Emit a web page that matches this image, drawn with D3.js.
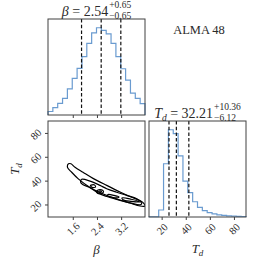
<!DOCTYPE html>
<html>
<head>
<meta charset="utf-8">
<script src="https://cdn.jsdelivr.net/npm/d3@7"></script>
<style>
  body { margin: 0; background: #fff; }
  svg { display: block; }
  text { font-family: "Liberation Serif", "DejaVu Serif", serif; fill: #2a2a2a; }
</style>
</head>
<body>
<div id="chart"></div>
<script>
'use strict';

// parameter ranges and ticks
var betaRange = [0.78, 3.99];
var tdRange = [9.5, 90];
var betaTicks = [1.6, 2.4, 3.2];
var tdTicks = [20, 40, 60, 80];

// 1D histograms (20 bins each)
var betaCounts = [40, 84, 134, 190, 300, 420, 535, 670, 820, 940, 1000, 970, 930, 820, 670, 530, 400, 250, 190, 130];
var tdCounts = [3, 3, 80, 610, 1000, 955, 700, 410, 280, 175, 110, 72, 50, 35, 25, 18, 12, 10, 8, 6];

// 16/50/84 quantiles
var betaQuantiles = [1.89, 2.54, 3.19];
var tdQuantiles = [26.09, 32.21, 42.57];

// 2D contours, [beta, Td]
var contourOuter = [[1.425, 51.2], [1.458, 54.1], [1.541, 54.1], [1.674, 51.2], [1.938, 47.0], [2.269, 41.9],
  [2.723, 36.0], [3.163, 30.5], [3.494, 26.7], [3.825, 23.3], [3.957, 20.8], [3.99, 18.7], [3.825, 18.7],
  [3.494, 21.2], [3.053, 24.6], [2.610, 28.8], [2.170, 34.3], [1.783, 41.5], [1.564, 47.0]];
var contourMid = [[1.856, 39.0], [1.895, 41.1], [2.170, 39.6], [2.501, 36.0], [2.723, 33.2], [3.053, 30.3],
  [3.384, 27.6], [3.715, 24.8], [3.881, 20.6], [3.825, 19.7], [3.494, 21.4], [3.106, 23.9], [2.723, 26.7],
  [2.445, 29.5], [2.170, 34.1], [1.928, 36.8]];
var islandA = [[2.186, 36.0], [2.319, 36.4], [2.352, 34.7], [2.236, 34.3]];
var islandB = [[2.385, 30.7], [2.435, 32.2], [2.501, 32.5], [2.584, 32.0], [2.617, 30.7], [2.567, 29.3], [2.501, 29.0], [2.418, 29.4]];
var islandC = [[2.766, 28.4], [2.964, 27.6], [3.130, 26.3], [3.063, 25.5], [2.865, 26.3], [2.749, 27.1]];
var islandD = [[3.229, 25.5], [3.527, 24.4], [3.825, 22.1], [3.527, 22.6], [3.262, 23.9]];
var islandCore = [[2.46, 30.8], [2.50, 31.5], [2.55, 30.8], [2.50, 30.1]];

var W = 266, H = 266;
var cols = [[48, 145], [149, 246]];
var rows = [[19, 115], [121, 217]];
var spine = '#404040';

var svg = d3.select('#chart').append('svg')
    .attr('width', W)
    .attr('height', H);

function frame(col, row) {
    svg.append('rect')
        .attr('x', cols[col][0]).attr('y', rows[row][0])
        .attr('width', cols[col][1] - cols[col][0])
        .attr('height', rows[row][1] - rows[row][0])
        .attr('fill', 'none').attr('stroke', spine).attr('stroke-width', 1);
}

function xTicks(x, ticks, row, labels) {
    var g = svg.append('g')
        .attr('transform', 'translate(0,' + rows[row][1] + ')')
        .call(d3.axisBottom(x).tickValues(ticks).tickSize(3).tickFormat(''));
    g.select('.domain').remove();
    g.selectAll('line').attr('stroke', spine);
    if (labels) {
        svg.selectAll(null)
            .data(ticks)
            .enter()
            .append('text')
            .attr('transform', d => 'translate(' + (x(d) + 0.5) + ',' + (rows[row][1] + 12) + ') rotate(-45)')
            .attr('text-anchor', 'middle')
            .attr('dominant-baseline', 'central')
            .attr('font-size', 10.5)
            .text(d => d);
    }
}

function hist(counts, range, quant, ticks, col, row, labels) {
    var x = d3.scaleLinear().domain(range).range(cols[col]);
    var y = d3.scaleLinear().domain([0, 1.1 * d3.max(counts)]).range([rows[row][1], rows[row][0]]);
    var n = counts.length;
    var pts = [[range[0], 0]];
    counts.forEach(function (c, i) {
        pts.push([range[0] + i * (range[1] - range[0]) / n, c]);
        pts.push([range[0] + (i + 1) * (range[1] - range[0]) / n, c]);
    });
    pts.push([range[1], 0]);
    svg.append('path')
        .attr('d', d3.line().x(d => x(d[0])).y(d => y(d[1]))(pts))
        .attr('fill', 'none')
        .attr('stroke', '#6a9bd0')
        .attr('stroke-width', 1.2);
    svg.selectAll(null)
        .data(quant)
        .enter()
        .append('line')
        .attr('x1', d => x(d)).attr('x2', d => x(d))
        .attr('y1', rows[row][0]).attr('y2', rows[row][1])
        .attr('stroke', '#111')
        .attr('stroke-width', 1.2)
        .attr('stroke-dasharray', '3.5,2.2');
    frame(col, row);
    xTicks(x, ticks, row, labels);
}

// top-left: beta
hist(betaCounts, betaRange, betaQuantiles, betaTicks, 0, 0, false);
// bottom-right: Td
hist(tdCounts, tdRange, tdQuantiles, tdTicks, 1, 1, true);

// bottom-left: contours
var cx = d3.scaleLinear().domain(betaRange).range(cols[0]);
var cy = d3.scaleLinear().domain(tdRange).range([rows[1][1], rows[1][0]]);

svg.append('clipPath').attr('id', 'clip2d')
    .append('rect')
    .attr('x', cols[0][0]).attr('y', rows[1][0])
    .attr('width', cols[0][1] - cols[0][0]).attr('height', rows[1][1] - rows[1][0]);

var ring = d3.line()
    .x(d => cx(d[0]))
    .y(d => cy(d[1]))
    .curve(d3.curveCatmullRomClosed.alpha(0.5));

svg.append('g')
    .attr('clip-path', 'url(#clip2d)')
    .selectAll('path')
    .data([contourOuter, contourMid, islandA, islandB, islandC, islandD, islandCore])
    .enter()
    .append('path')
    .attr('d', ring)
    .attr('fill', 'none')
    .attr('stroke', '#000')
    .attr('stroke-width', 1.2);

frame(0, 1);
xTicks(cx, betaTicks, 1, true);

var yg = svg.append('g')
    .attr('transform', 'translate(' + cols[0][0] + ',0)')
    .call(d3.axisLeft(cy).tickValues(tdTicks).tickSize(3).tickFormat(''));
yg.select('.domain').remove();
yg.selectAll('line').attr('stroke', spine);
svg.selectAll(null)
    .data(tdTicks)
    .enter()
    .append('text')
    .attr('transform', d => 'translate(36,' + (cy(d) + 1.5) + ') rotate(-45)')
    .attr('text-anchor', 'middle')
    .attr('dominant-baseline', 'central')
    .attr('font-size', 10.5)
    .text(d => d);

// axis labels
svg.append('text')
    .attr('x', (cols[0][0] + cols[0][1]) / 2).attr('y', 254)
    .attr('text-anchor', 'middle').attr('font-size', 13).attr('font-style', 'italic')
    .text('β');

function tdLabel(sel) {
    sel.append('tspan').attr('font-style', 'italic').text('T');
    sel.append('tspan').attr('font-style', 'italic').attr('font-size', 9).attr('dy', 3).text('d');
}
svg.append('text')
    .attr('x', (cols[1][0] + cols[1][1]) / 2).attr('y', 253)
    .attr('text-anchor', 'middle').attr('font-size', 13)
    .call(tdLabel);
svg.append('text')
    .attr('transform', 'translate(19,' + ((rows[1][0] + rows[1][1]) / 2) + ') rotate(-90)')
    .attr('text-anchor', 'middle').attr('font-size', 13)
    .call(tdLabel);

// titles with value +err / -err
function title(cxPos, baseline, mainParts, sup, sub) {
    var g = svg.append('g');
    var main = g.append('text').attr('y', baseline).attr('font-size', 14);
    mainParts(main);
    var supT = g.append('text').attr('y', baseline - 8.5).attr('font-size', 9.5).text(sup);
    var subT = g.append('text').attr('y', baseline + 2.5).attr('font-size', 9.5).text(sub);
    var mw = main.node().getComputedTextLength();
    var sw = Math.max(supT.node().getComputedTextLength(), subT.node().getComputedTextLength());
    var x0 = cxPos - (mw + sw + 1) / 2;
    main.attr('x', x0);
    supT.attr('x', x0 + mw + 1);
    subT.attr('x', x0 + mw + 1);
}

title((cols[0][0] + cols[0][1]) / 2, 16, function (t) {
    t.append('tspan').attr('font-style', 'italic').text('β');
    t.append('tspan').text(' = 2.54');
}, '+0.65', '\u22120.65');

title((cols[1][0] + cols[1][1]) / 2, 118, function (t) {
    t.append('tspan').attr('font-style', 'italic').text('T');
    t.append('tspan').attr('font-style', 'italic').attr('font-size', 9.5).attr('dy', 3).text('d');
    t.append('tspan').attr('dy', -3).text(' = 32.21');
}, '+10.36', '\u22126.12');

svg.append('text')
    .attr('x', 199).attr('y', 34)
    .attr('text-anchor', 'middle').attr('font-size', 12.5)
    .text('ALMA 48');
</script>
</body>
</html>
